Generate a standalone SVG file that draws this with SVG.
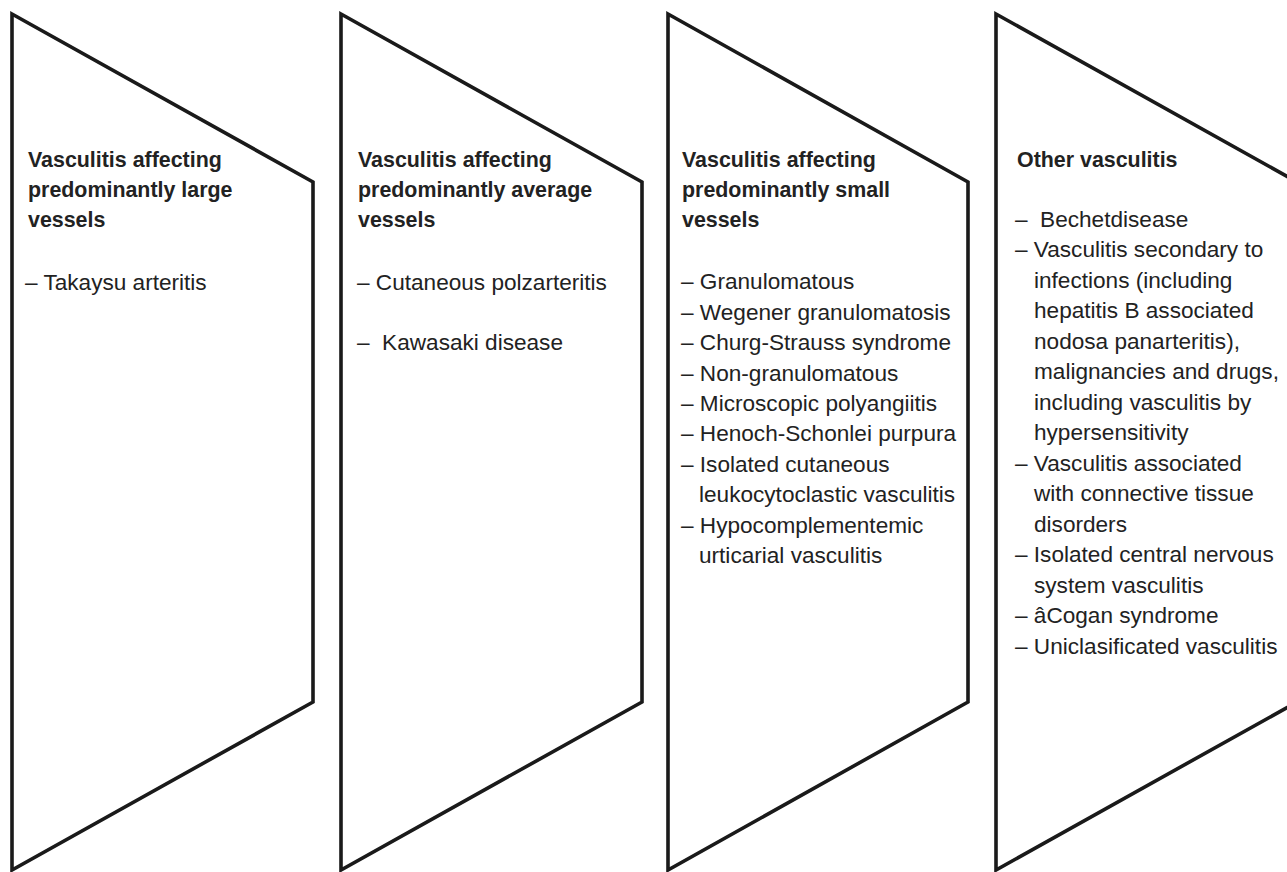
<svg xmlns="http://www.w3.org/2000/svg" width="1287" height="872" viewBox="0 0 1287 872">
<style>
.shape{fill:#ffffff;stroke:#1a1a1a;stroke-width:3.6;stroke-linejoin:miter}
.h{font-family:"Liberation Sans",Arial,sans-serif;font-weight:bold;font-size:21.4px;fill:#222}
.t{font-family:"Liberation Sans",Arial,sans-serif;font-size:22.6px;fill:#222}
</style>
<rect x="0" y="0" width="1287" height="872" fill="#ffffff"/>
<g id="connectors"></g>
<g id="node-large">
<path class="shape" d="M12,14 L313,182 L313,702 L12,870 Z"/>
<text class="h" x="28" y="166.7">Vasculitis affecting</text>
<text class="h" x="28" y="196.7">predominantly large</text>
<text class="h" x="28" y="226.7">vessels</text>
<text class="t" x="25" y="290">– Takaysu arteritis</text>
</g>
<g id="node-average">
<path class="shape" d="M341,14 L642,182 L642,702 L341,870 Z"/>
<text class="h" x="358" y="166.7">Vasculitis affecting</text>
<text class="h" x="358" y="196.7">predominantly average</text>
<text class="h" x="358" y="226.7">vessels</text>
<text class="t" x="357" y="290">– Cutaneous polzarteritis</text>
<text class="t" x="357" y="350" xml:space="preserve">–  Kawasaki disease</text>
</g>
<g id="node-small">
<path class="shape" d="M668,14 L968,182 L968,702 L668,870 Z"/>
<text class="h" x="682" y="166.7">Vasculitis affecting</text>
<text class="h" x="682" y="196.7">predominantly small</text>
<text class="h" x="682" y="226.7">vessels</text>
<text class="t" x="681" y="289.3">– Granulomatous</text>
<text class="t" x="681" y="319.7">– Wegener granulomatosis</text>
<text class="t" x="681" y="350.1">– Churg-Strauss syndrome</text>
<text class="t" x="681" y="380.5">– Non-granulomatous</text>
<text class="t" x="681" y="410.9">– Microscopic polyangiitis</text>
<text class="t" x="681" y="441.3">– Henoch-Schonlei purpura</text>
<text class="t" x="681" y="471.7">– Isolated cutaneous</text>
<text class="t" x="699" y="502.1">leukocytoclastic vasculitis</text>
<text class="t" x="681" y="532.5">– Hypocomplementemic</text>
<text class="t" x="699" y="562.9">urticarial vasculitis</text>
</g>
<g id="node-other">
<path class="shape" d="M996,14 L1297,182 L1297,702 L996,870 Z"/>
<text class="h" x="1017" y="166.7">Other vasculitis</text>
<text class="t" x="1015" y="226.7" xml:space="preserve">–  Bechetdisease</text>
<text class="t" x="1015" y="257.2">– Vasculitis secondary to</text>
<text class="t" x="1034" y="287.7">infections (including</text>
<text class="t" x="1034" y="318.2">hepatitis B associated</text>
<text class="t" x="1034" y="348.7">nodosa panarteritis),</text>
<text class="t" x="1034" y="379.2">malignancies and drugs,</text>
<text class="t" x="1034" y="409.7">including vasculitis by</text>
<text class="t" x="1034" y="440.2">hypersensitivity</text>
<text class="t" x="1015" y="470.7">– Vasculitis associated</text>
<text class="t" x="1034" y="501.2">with connective tissue</text>
<text class="t" x="1034" y="531.7">disorders</text>
<text class="t" x="1015" y="562.2">– Isolated central nervous</text>
<text class="t" x="1034" y="592.7">system vasculitis</text>
<text class="t" x="1015" y="623.2">– âCogan syndrome</text>
<text class="t" x="1015" y="653.7">– Uniclasificated vasculitis</text>
</g>
</svg>
